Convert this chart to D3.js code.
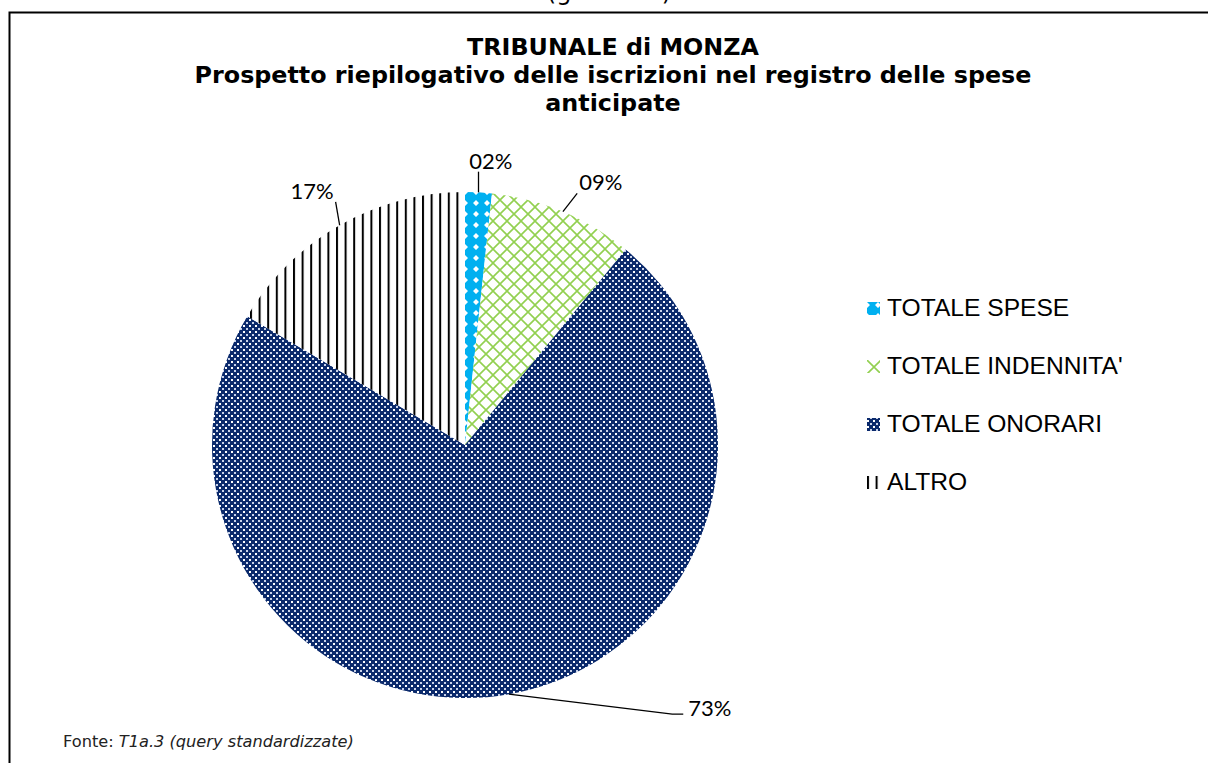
<!DOCTYPE html>
<html>
<head>
<meta charset="utf-8">
<title>Tribunale di Monza - spese anticipate</title>
<script src="https://cdn.jsdelivr.net/npm/d3@7"></script>
<style>
  body { margin: 0; background: #fff; }
</style>
</head>
<body>
<div id="chart"></div>
<script>

// data
var categories = ["TOTALE SPESE", "TOTALE INDENNITA'", "TOTALE ONORARI", "ALTRO"];
var shares = [1.7, 9.25, 72.55, 16.5];   // percent of total
var titleLines = ["TRIBUNALE di MONZA",
    "Prospetto riepilogativo delle iscrizioni nel registro delle spese",
    "anticipate"];

var width = 1208, height = 763;
var cx = 465, cy = 445, radius = 253;

var svg = d3.select("#chart")
    .append("svg")
    .attr("width", width)
    .attr("height", height);

var defs = svg.append("defs");

// blue with white diamonds
var p0 = defs.append("pattern").attr("id", "pat0")
    .attr("patternUnits", "userSpaceOnUse").attr("width", 11).attr("height", 11);
p0.append("rect").attr("width", 11).attr("height", 11).attr("fill", "#00b0f0");
p0.append("path").attr("fill", "#fff")
    .attr("d", "M0,-3L3,0L0,3L-3,0Z M11,-3L14,0L11,3L8,0Z M0,8L3,11L0,14L-3,11Z M11,8L14,11L11,14L8,11Z");

// green diamond lattice
var p1 = defs.append("pattern").attr("id", "pat1")
    .attr("patternUnits", "userSpaceOnUse").attr("width", 14).attr("height", 14);
p1.append("rect").attr("width", 14).attr("height", 14).attr("fill", "#fff");
p1.append("path").attr("stroke", "#92d050").attr("stroke-width", 1.6).attr("fill", "none")
    .attr("d", "M0,0L14,14M14,0L0,14");

// navy with small white dots
var p2 = defs.append("pattern").attr("id", "pat2")
    .attr("patternUnits", "userSpaceOnUse").attr("width", 6).attr("height", 6);
p2.append("rect").attr("width", 6).attr("height", 6).attr("fill", "#0b2a6c");
p2.append("rect").attr("x", 0).attr("y", 0).attr("width", 2).attr("height", 2).attr("fill", "#fff");
p2.append("rect").attr("x", 3).attr("y", 3).attr("width", 2).attr("height", 2).attr("fill", "#c9d3ea");

// black vertical stripes
var p3 = defs.append("pattern").attr("id", "pat3")
    .attr("patternUnits", "userSpaceOnUse").attr("width", 8.6).attr("height", 10);
p3.append("rect").attr("width", 8.6).attr("height", 10).attr("fill", "#fff");
p3.append("rect").attr("x", 0).attr("width", 2).attr("height", 10).attr("fill", "#000");

var fills = ["url(#pat0)", "url(#pat1)", "url(#pat2)", "url(#pat3)"];

// outer frame
svg.append("rect")
    .attr("x", 9.5).attr("y", 12.5)
    .attr("width", width + 20).attr("height", height)
    .attr("fill", "none").attr("stroke", "#000").attr("stroke-width", 2);

// heading above the frame, cut off by the page top as in the source
svg.append("text")
    .attr("x", 609).attr("y", 0)
    .attr("text-anchor", "middle")
    .style("font-family", "DejaVu Sans")
    .style("font-size", "24px")
    .text("(grafico 1)");

// title
svg.selectAll(".title")
    .data(titleLines)
    .enter().append("text")
    .attr("class", "title")
    .attr("x", 613)
    .attr("y", function (d, i) { return 55 + i * 28; })
    .attr("text-anchor", "middle")
    .style("font-family", "DejaVu Sans")
    .style("font-weight", "bold")
    .style("font-size", "23.8px")
    .text(function (d) { return d; });

// pie
var pie = d3.pie().sort(null).value(function (d) { return d; });
var arcs = pie(shares);
var arc = d3.arc().innerRadius(0).outerRadius(radius);

var g = svg.append("g").attr("transform", "translate(" + cx + "," + cy + ")");

g.selectAll("path.slice")
    .data(arcs)
    .enter().append("path")
    .attr("class", "slice")
    .attr("d", arc)
    .attr("fill", function (d, i) { return fills[i]; });

// labels: centre of each label as [angle in degrees, radius]
var labelSpots = [[5.2, 286], [27.3, 296], [137, 359], [-31, 297]];
var fmt = d3.format("02d");

function polar(deg, r) {
    var a = deg * Math.PI / 180;
    return [r * Math.sin(a), -r * Math.cos(a)];
}

arcs.forEach(function (d, i) {
    var pos = polar(labelSpots[i][0], labelSpots[i][1]);
    var t = g.append("text")
        .attr("x", pos[0])
        .attr("y", pos[1])
        .attr("text-anchor", "middle")
        .attr("dominant-baseline", "central")
        .style("font-family", "Lato")
        .style("font-size", "22px")
        .attr("fill", "#000")
        .text(fmt(Math.round(shares[i])) + "%");

    var bb = t.node().getBBox();
    var x0 = bb.x - 2, x1 = bb.x + bb.width + 2, y0 = bb.y + 3, y1 = bb.y + bb.height - 2;
    var mid = (d.startAngle + d.endAngle) / 2;
    var ex = radius * Math.sin(mid), ey = -radius * Math.cos(mid);
    var pts;
    if (ex < x0 - 40) {
        // label moved far to the right: elbow leader
        var ty = (y0 + y1) / 2 + 6;
        pts = [[ex, ey], [x0 - 14, ty], [x0 - 3, ty]];
    } else {
        var ax = Math.max(x0, Math.min(x1, ex));
        var ay = Math.max(y0, Math.min(y1, ey));
        pts = [[ex, ey], [ax, ay]];
    }
    g.append("path")
        .attr("d", d3.line()(pts))
        .attr("fill", "none")
        .attr("stroke", "#000")
        .attr("stroke-width", 1.3);
});

// legend
var legend = svg.selectAll(".legend")
    .data(categories)
    .enter().append("g")
    .attr("class", "legend")
    .attr("transform", function (d, i) { return "translate(867," + (316 + i * 58) + ")"; });

legend.append("rect")
    .attr("x", 0).attr("y", -14)
    .attr("width", 13).attr("height", 13)
    .attr("fill", function (d, i) { return fills[i]; });

legend.append("text")
    .attr("x", 20)
    .attr("y", 0)
    .style("font-family", "Liberation Sans")
    .style("font-size", "24.6px")
    .attr("fill", "#000")
    .text(function (d) { return d; });

// source note
var note = svg.append("text")
    .attr("x", 63).attr("y", 747)
    .style("font-family", "DejaVu Sans")
    .style("font-size", "16.2px")
    .attr("fill", "#222");
note.append("tspan").text("Fonte: ");
note.append("tspan").style("font-style", "italic").text("T1a.3 (query standardizzate)");

</script>
</body>
</html>
